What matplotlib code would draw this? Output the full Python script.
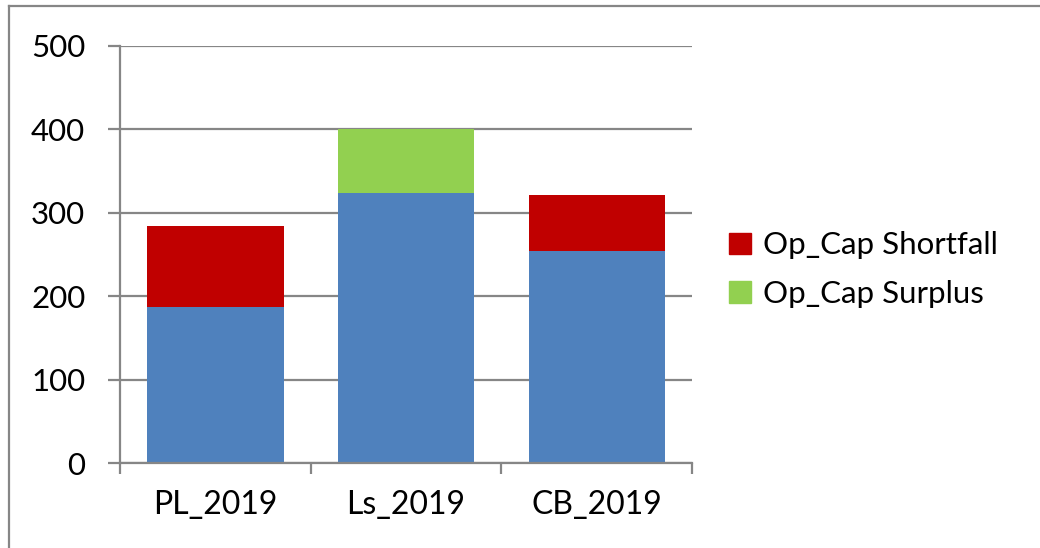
import matplotlib
matplotlib.use('Agg')
import matplotlib.pyplot as plt
from matplotlib.lines import Line2D
from matplotlib.patches import Patch
import numpy as np

categories = ['PL_2019', 'Ls_2019', 'CB_2019']
base = [187, 324, 254]
shortfall = [97, 0, 67]
surplus = [0, 76, 0]

BLUE = '#4F81BD'
RED = '#C00000'
GREEN = '#92D050'
GRAY = '#868686'

plt.rcParams['font.family'] = ['Lato', 'DejaVu Sans']

fig = plt.figure(figsize=(10.4, 5.48), dpi=100)
ax = fig.add_axes([0.1154, 0.1546, 0.55, 0.762])

x = np.arange(len(categories))
w = 0.715
ax.bar(x, base, w, color=BLUE, zorder=3)
ax.bar(x, shortfall, w, bottom=base, color=RED, zorder=3, label='Op_Cap Shortfall')
ax.bar(x, surplus, w, bottom=base, color=GREEN, zorder=3, label='Op_Cap Surplus')

ax.set_xlim(-0.5, len(categories) - 0.5)
ax.set_ylim(0, 500)
ax.set_yticks(range(0, 501, 100))
ax.set_xticks(x)
ax.set_xticklabels(categories)
ax.set_xticks(np.arange(-0.5, len(categories)), minor=True)

ax.grid(axis='y', color=GRAY, lw=1.6, zorder=0)
for s in ['top', 'right']:
    ax.spines[s].set_visible(False)
for s in ['left', 'bottom']:
    ax.spines[s].set_color(GRAY)
    ax.spines[s].set_linewidth(1.6)
ax.spines['bottom'].set_zorder(4)

ax.tick_params(axis='y', length=9, width=1.6, color=GRAY, pad=16, labelsize=22.5)
ax.tick_params(axis='x', which='major', length=0, pad=19, labelsize=23)
ax.tick_params(axis='x', which='minor', length=8, width=1.6, color=GRAY)

handles = [Patch(color=RED), Patch(color=GREEN)]
fig.legend(handles, ['Op_Cap Shortfall', 'Op_Cap Surplus'],
           loc='center left', bbox_to_anchor=(0.689, 0.508), frameon=False,
           fontsize=22.5, handlelength=0.7, handleheight=0.7,
           handletextpad=0.4, labelspacing=0.65, borderaxespad=0)

# outer chart border (left and top only visible)
fig.add_artist(Line2D([0.009, 0.009], [0, 0.989], color=GRAY, lw=1.6, transform=fig.transFigure))
fig.add_artist(Line2D([0.009, 1], [0.989, 0.989], color=GRAY, lw=1.6, transform=fig.transFigure))

fig.savefig('out.png', dpi=100)
